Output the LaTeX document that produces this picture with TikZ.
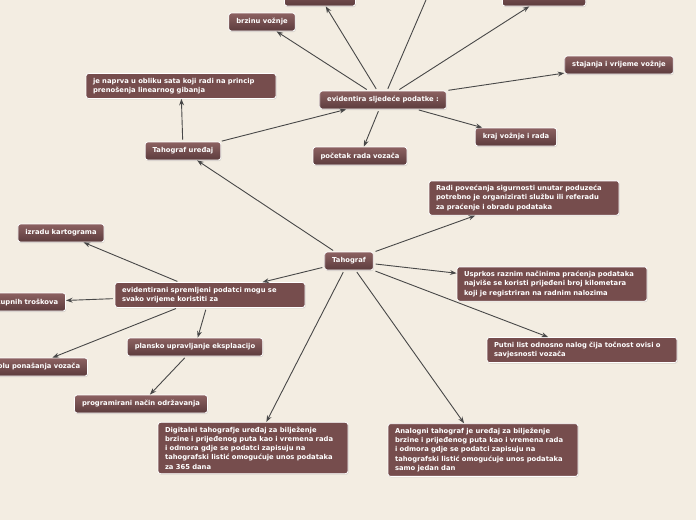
\documentclass[tikz,border=0pt]{standalone}
\usepackage{fontspec}
\setmainfont{DejaVu Sans}
\usetikzlibrary{arrows.meta,shadows}
\hyphenpenalty=10000
\exhyphenpenalty=10000
\definecolor{paper}{HTML}{F3EDE2}
\definecolor{wine700}{HTML}{764D4D}
\definecolor{wine500}{HTML}{8C6161}
\definecolor{wine800}{HTML}{5C3C3D}
\definecolor{ink}{HTML}{484848}
\tikzset{
  every node/.style={font=\fontsize{6.8}{9.2}\selectfont\bfseries, text=white},
  topic/.style={
    rectangle, rounded corners=2.5pt,
    draw=white, line width=0.8pt,
    top color=wine500, bottom color=wine800,
    minimum height=18pt, inner xsep=7.5pt,
    drop shadow={opacity=0.25, shadow xshift=0.6pt, shadow yshift=-1pt}
  },
  note/.style={
    rectangle, rounded corners=2.5pt,
    draw=white, line width=0.8pt, fill=wine700,
    text width=176pt, align=left,
    inner xsep=7pt, inner ysep=4.5pt,
    drop shadow={opacity=0.25, shadow xshift=0.6pt, shadow yshift=-1pt}
  },
  link/.style={
    -{Stealth[length=2.3mm,width=1.7mm]},
    line width=0.9pt, draw=ink, shorten <=2pt
  },
}

\begin{document}
\begin{tikzpicture}[x=1pt,y=-1pt]
  \fill[paper] (0,0) rectangle (696,520);
  \useasboundingbox (0,0) rectangle (696,520);
  \clip (0,0) rectangle (696,520);
  % centre
  \node[topic] (tah) at (349,261) {Tahograf};
  % upper branch
  \node[topic] (ure) at (183,151) {Tahograf uređaj};
  \node[note] (nap) at (181,86) {je naprva u obliku sata koji radi na princip\\ prenošenja linearnog gibanja};
  \node[topic] (evi) at (383,100) {evidentira sljedeće podatke :};
  \node[topic] (poc) at (360,156) {početak rada vozača};
  \node[topic] (kra) at (516,137) {kraj vožnje i rada};
  \node[topic] (sta) at (619,65) {stajanja i vrijeme vožnje};
  \node[topic] (bro) at (544,-3) {broj zaustavljanja};
  \node[topic] (utr) at (320,-3) {utrošak goriva};
  \node[topic] (brz) at (262,22) {brzinu vožnje};
  \coordinate (gore) at (441,-35);
  % right side
  \node[note] (rad) at (524,198) {Radi povećanja sigurnosti unutar poduzeća\\ potrebno je organizirati službu ili referadu\\ za praćenje i obradu podataka};
  \node[note] (usp) at (552,284) {Usprkos raznim načinima praćenja podataka\\ najviše se koristi prijeđeni broj kilometara\\ koji je registriran na radnim nalozima};
  \node[note] (put) at (582,350) {Putni list odnosno nalog čija točnost ovisi o\\ savjesnosti vozača};
  \node[note] (ana) at (483,450) {Analogni tahograf je uređaj za bilježenje\\ brzine i prijeđenog puta kao i vremena rada\\ i odmora gdje se podatci zapisuju na\\ tahografski listić omogućuje unos podataka\\ samo jedan dan};
  \node[note] (dig) at (253,448) {Digitalni tahografje uređaj za bilježenje\\ brzine i prijeđenog puta kao i vremena rada\\ i odmora gdje se podatci zapisuju na\\ tahografski listić omogućuje unos podataka\\ za 365 dana};
  % left branch
  \node[note] (spr) at (210,295) {evidentirani spremljeni podatci mogu se\\ svako vrijeme koristiti za};
  \node[topic] (kar) at (61,233) {izradu kartograma};
  \node[topic, anchor=east] (tro) at (66,302) {ukupnih troškova};
  \node[topic] (pla) at (195,347) {plansko upravljanje eksplaacijo};
  \node[topic, anchor=east] (pon) at (88,367) {kontrolu ponašanja vozača};
  \node[topic] (pro) at (141,404) {programirani način održavanja};
  % connectors
  \draw[link] (tah) -- (ure);
  \draw[link] (ure) -- (nap);
  \draw[link] (ure) -- (evi);
  \foreach \t in {poc,kra,sta,bro,utr,brz,gore}
    \draw[link] (evi) -- (\t);
  \foreach \t in {rad,usp,put,ana,dig,spr}
    \draw[link] (tah) -- (\t);
  \foreach \t in {kar,tro,pla,pon}
    \draw[link] (spr) -- (\t);
  \draw[link] (pla) -- (pro);
\end{tikzpicture}
\end{document}
